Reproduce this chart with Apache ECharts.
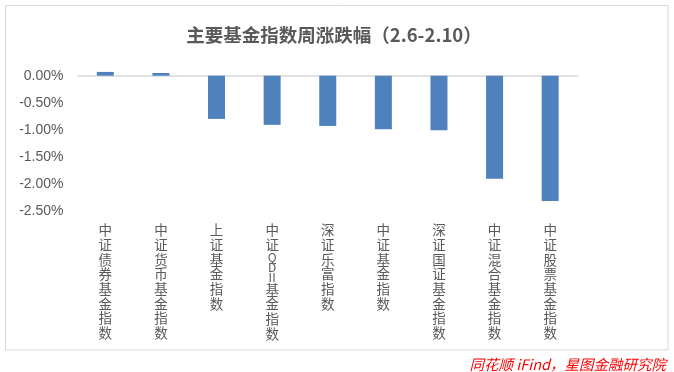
<!DOCTYPE html>
<html>
<head>
<meta charset="utf-8">
<script src="https://cdn.jsdelivr.net/npm/echarts@6/dist/echarts.min.js"></script>
<style>html,body{margin:0;padding:0;background:#fff;}#c{width:674px;height:372px;}</style>
</head>
<body>
<div id="c"></div>
<script>
const categories = ['中证债券基金指数','中证货币基金指数','上证基金指数','中证QDII基金指数','深证乐富指数','中证基金指数','深证国证基金指数','中证混合基金指数','中证股票基金指数'];
const values = [0.07, 0.05, -0.80, -0.91, -0.93, -0.99, -1.01, -1.91, -2.32];
const yTicks = [0, -0.5, -1, -1.5, -2, -2.5];
const titleText = '主要基金指数周涨跌幅（2.6-2.10）';
const sourceText = '同花顺 iFind，星图金融研究院';

function vertical(s) {
  const out = [];
  let i = 0;
  while (i < s.length) {
    if (s.slice(i, i + 2) === 'II') { out.push('{lat|II}'); i += 2; continue; }
    const ch = s[i];
    if (/[A-Za-z]/.test(ch)) out.push('{lat|' + ch + '}');
    else out.push(ch);
    i++;
  }
  return out.join('\n');
}

const chart = echarts.init(document.getElementById('c'));
chart.setOption({
  backgroundColor: '#ffffff',
  animation: false,
  title: [{
    text: titleText,
    left: 329, top: 21, textAlign: 'center',
    textStyle: { fontSize: 18.5, fontWeight: 'bold', color: '#595959', fontFamily: 'Noto Sans CJK SC' }
  }, {
    text: sourceText,
    right: 3, top: 352,
    textStyle: { fontSize: 14.5, fontStyle: 'italic', fontWeight: 'normal', color: '#ff0000', fontFamily: 'Noto Sans CJK SC' }
  }],
  graphic: [{
    type: 'rect', shape: { x: 5.5, y: 5.5, width: 662.5, height: 344.5 },
    style: { fill: 'none', stroke: '#d9d9d9', lineWidth: 1 }, silent: true, z: -1
  }],
  grid: { left: 77.5, right: 96, top: 70.3, bottom: 161.3, containLabel: false },
  xAxis: {
    type: 'category', data: categories, position: 'bottom',
    axisLine: { show: false, onZero: false }, axisTick: { show: false },
    axisLabel: {
      interval: 0, margin: 12, color: '#595959', fontSize: 13.5, lineHeight: 14.7,
      fontFamily: 'Noto Sans CJK SC', verticalAlign: 'top',
      formatter: v => vertical(v),
      rich: { lat: { fontSize: 12, lineHeight: 10, color: '#595959', fontFamily: 'Noto Sans CJK SC' } }
    }
  },
  yAxis: {
    type: 'value', min: -2.5, max: 0.1, interval: 0.5,
    axisLine: { show: false }, axisTick: { show: false }, splitLine: { show: false },
    axisLabel: {
      margin: 14, color: '#595959', fontSize: 14, fontFamily: 'Liberation Sans',
      formatter: v => (yTicks.some(t => Math.abs(t - v) < 1e-9) ? v.toFixed(2) + '%' : '')
    }
  },
  series: [{
    type: 'bar', data: values, barWidth: 17,
    itemStyle: { color: '#4f81bd' },
    markLine: {
      silent: true, symbol: 'none', label: { show: false },
      lineStyle: { color: '#d9d9d9', type: 'solid', width: 1.5 },
      data: [{ yAxis: 0 }], z: 1
    },
    z: 2
  }]
});
</script>
</body>
</html>
